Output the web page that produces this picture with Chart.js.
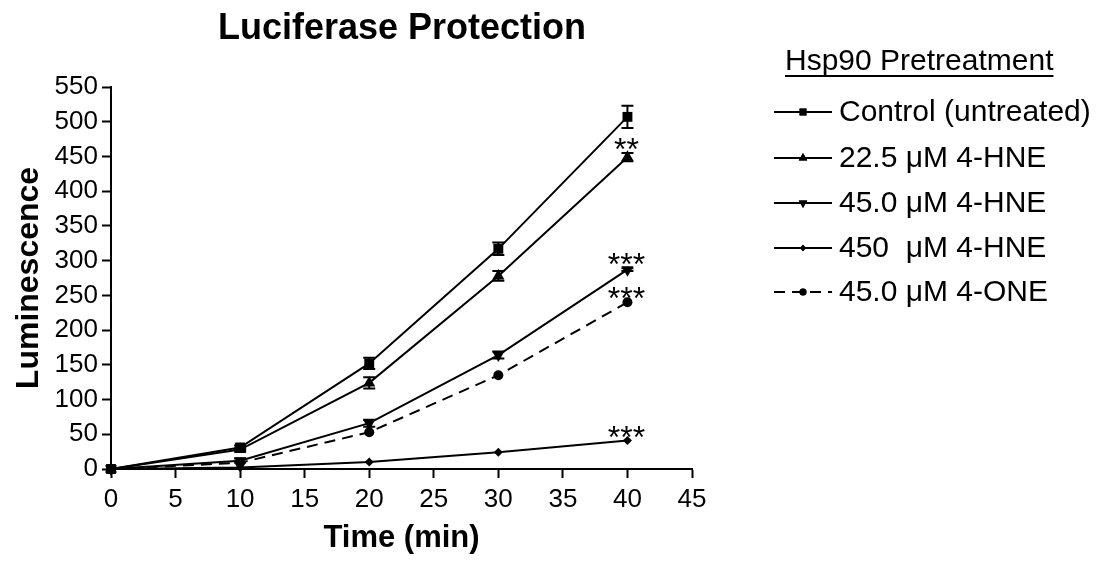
<!DOCTYPE html>
<html>
<head>
<meta charset="utf-8">
<script src="https://cdn.jsdelivr.net/npm/chart.js@4"></script>
<style>
  body { margin: 0; background: #fff; }
  #wrap { width: 1107px; height: 569px; }
</style>
</head>
<body>
<div id="wrap"><canvas id="chart" width="1107" height="569"></canvas></div>
<script>
"use strict"

// DATA
const times = [0, 10, 20, 30, 40];
const xTicks = [0, 5, 10, 15, 20, 25, 30, 35, 40, 45];
const yTicks = [0, 50, 100, 150, 200, 250, 300, 350, 400, 450, 500, 550];

const seriesNames = ['Control (untreated)', '22.5 \u03bcM 4-HNE', '45.0 \u03bcM 4-HNE', '450  \u03bcM 4-HNE', '45.0 \u03bcM 4-ONE'];

const control = [0, 31, 152, 317, 507];
const hne225 = [0, 28, 124, 278, 449];
const hne45 = [0, 12, 66, 164, 287];
const hne450 = [0, 2, 10, 24, 41];
const one45 = [0, 9, 53, 135, 240];

// error bars (SEM)
const controlErr = [0, 3, 8, 9, 16];
const hne225Err = [0, 2, 8, 7, 6];
const hne45Err = [0, 3, 5, 5, 2];
const hne450Err = [0, 0, 0, 0, 0];
const one45Err = [0, 0, 0, 0, 0];

// significance marks at the last time point
const sigMarks = ['', '**', '***', '***', '***'];

const FONT = "'Liberation Sans', Arial, sans-serif";

function pts(values) {
  return times.map((t, i) => ({ x: t, y: values[i] }));
}

const styles = [
  { shape: 'rect', radius: 7, rot: 0, dash: [] },
  { shape: 'triangle', radius: 7, rot: 0, dash: [] },
  { shape: 'triangle', radius: 7, rot: 180, dash: [] },
  { shape: 'rectRot', radius: 4.5, rot: 0, dash: [] },
  { shape: 'circle', radius: 5, rot: 0, dash: [11, 7] }
];
const allValues = [control, hne225, hne45, hne450, one45];
const allErrs = [controlErr, hne225Err, hne45Err, hne450Err, one45Err];

const datasets = allValues.map((vals, i) => ({
  label: seriesNames[i],
  data: pts(vals),
  errors: allErrs[i],
  sig: sigMarks[i],
  borderColor: '#000',
  backgroundColor: '#000',
  borderWidth: 2,
  borderDash: styles[i].dash,
  pointStyle: styles[i].shape,
  pointRadius: styles[i].radius,
  pointRotation: styles[i].rot,
  pointBorderWidth: 0,
  tension: 0,
  clip: false
}));

// error bars + significance stars
const errorBars = {
  id: 'errorBars',
  afterDatasetsDraw(chart) {
    const ctx = chart.ctx;
    const yScale = chart.scales.y;
    ctx.save();
    ctx.strokeStyle = '#000';
    ctx.lineWidth = 2;
    chart.data.datasets.forEach((ds, di) => {
      const meta = chart.getDatasetMeta(di);
      meta.data.forEach((pt, i) => {
        const err = ds.errors[i];
        if (!err) return;
        const v = ds.data[i].y;
        const yTop = yScale.getPixelForValue(v + err);
        const yBot = yScale.getPixelForValue(v - err);
        ctx.beginPath();
        ctx.moveTo(pt.x, yTop); ctx.lineTo(pt.x, yBot);
        ctx.moveTo(pt.x - 6, yTop); ctx.lineTo(pt.x + 6, yTop);
        ctx.moveTo(pt.x - 6, yBot); ctx.lineTo(pt.x + 6, yBot);
        ctx.stroke();
      });
      if (ds.sig) {
        const last = meta.data.length - 1;
        const pt = meta.data[last];
        const top = yScale.getPixelForValue(ds.data[last].y + (ds.errors[last] || 0));
        ctx.fillStyle = '#000';
        ctx.font = '32px ' + FONT;
        ctx.textAlign = 'center';
        ctx.textBaseline = 'alphabetic';
        ctx.fillText(ds.sig, pt.x - 1, top + 7);
      }
    });
    ctx.restore();
  }
};

// title + custom legend on the right
const sideLegend = {
  id: 'sideLegend',
  afterDraw(chart) {
    const ctx = chart.ctx;
    ctx.save();
    ctx.fillStyle = '#000';
    ctx.strokeStyle = '#000';

    ctx.font = 'bold 36px ' + FONT;
    ctx.textAlign = 'center';
    ctx.textBaseline = 'middle';
    ctx.fillText('Luciferase Protection', 402, 29);

    ctx.font = '30px ' + FONT;
    ctx.textAlign = 'left';
    ctx.fillText('Hsp90 Pretreatment', 785, 62);
    const w = ctx.measureText('Hsp90 Pretreatment').width;
    ctx.lineWidth = 2;
    ctx.beginPath();
    ctx.moveTo(785, 76); ctx.lineTo(785 + w, 76);
    ctx.stroke();

    const rowY = [112, 158, 203, 248, 292];
    chart.data.datasets.forEach((ds, i) => {
      const y = rowY[i];
      ctx.setLineDash(ds.borderDash);
      ctx.beginPath();
      ctx.moveTo(774, y); ctx.lineTo(832, y);
      ctx.stroke();
      ctx.setLineDash([]);
      Chart.helpers.drawPoint(ctx, {
        pointStyle: ds.pointStyle,
        radius: ds.pointRadius * 0.7,
        rotation: ds.pointRotation,
        borderWidth: 0
      }, 803, y);
      ctx.fill();
      ctx.fillText(ds.label, 839, y + 1);
    });
    ctx.restore();
  }
};

const config = {
  type: 'line',
  data: { datasets },
  options: {
    responsive: false,
    animation: false,
    layout: { padding: { left: 0, top: 87, right: 415, bottom: 0 } },
    plugins: {
      legend: { display: false },
      title: { display: false },
      tooltip: { enabled: false }
    },
    scales: {
      x: {
        type: 'linear',
        min: 0,
        max: 45,
        afterBuildTicks: s => { s.ticks = xTicks.map(v => ({ value: v })); },
        afterFit: s => { s.height = 100; },
        grid: { drawOnChartArea: false, drawTicks: true, tickLength: 9, tickWidth: 2, tickColor: '#000' },
        border: { color: '#000', width: 2 },
        ticks: { color: '#000', font: { family: FONT, size: 26 }, padding: 6, maxRotation: 0 },
        title: { display: true, text: 'Time (min)', color: '#000', font: { family: FONT, size: 31, weight: 'bold' }, padding: { top: 0, bottom: 12 } }
      },
      y: {
        min: 0,
        max: 550,
        afterBuildTicks: s => { s.ticks = yTicks.map(v => ({ value: v })); },
        afterFit: s => { s.width = 111; },
        grid: { drawOnChartArea: false, drawTicks: true, tickLength: 9, tickWidth: 2, tickColor: '#000' },
        border: { color: '#000', width: 2 },
        ticks: { color: '#000', font: { family: FONT, size: 26 }, padding: 4 },
        title: { display: true, text: 'Luminescence', color: '#000', font: { family: FONT, size: 32, weight: 'bold' }, padding: { top: 10, bottom: 0 } }
      }
    }
  },
  plugins: [errorBars, sideLegend]
};

const lineChart = new Chart(document.getElementById('chart'), config);
</script>
</body>
</html>
